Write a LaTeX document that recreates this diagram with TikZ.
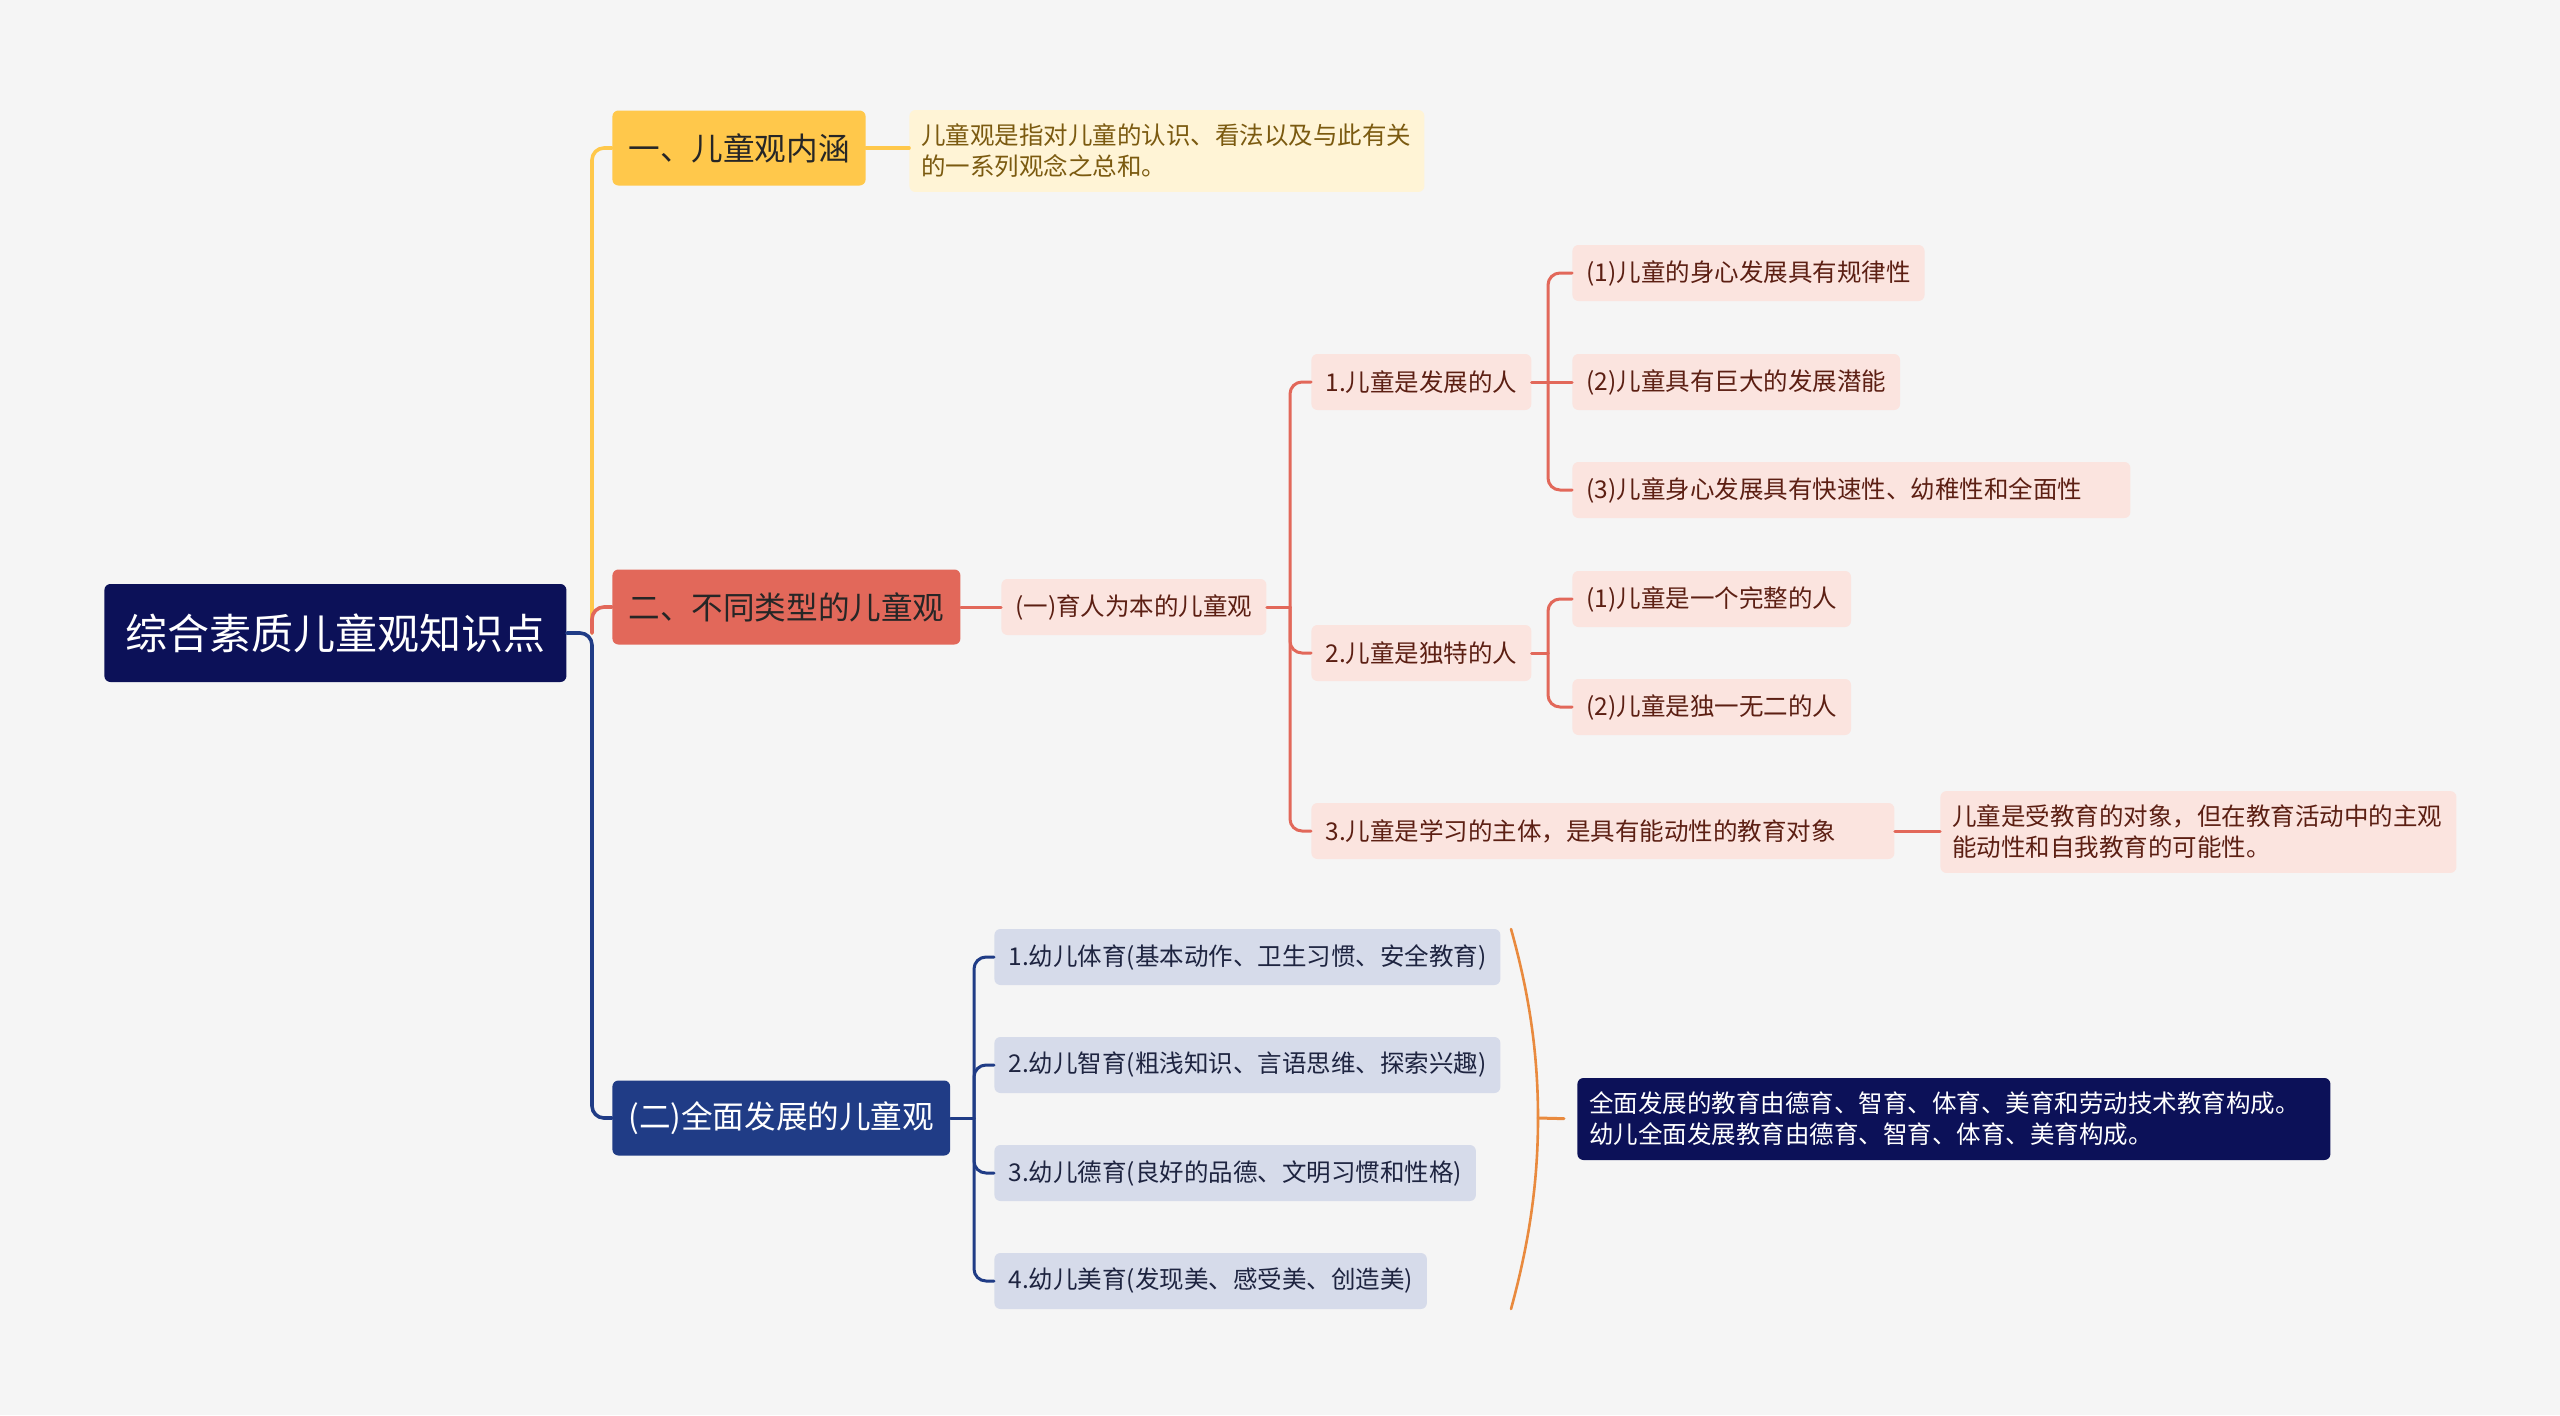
\documentclass[tikz,border=0pt]{standalone}
\usepackage{fontspec}
\setmainfont{Noto Sans CJK SC}
\definecolor{bgc}{HTML}{F5F5F5}
\definecolor{rootc}{HTML}{0C1158}
\definecolor{yelc}{HTML}{FFC84B}
\definecolor{yelleaf}{HTML}{FFF4D6}
\definecolor{yeltext}{HTML}{7B5A10}
\definecolor{redc}{HTML}{E2685A}
\definecolor{redleaf}{HTML}{FBE4DF}
\definecolor{redtext}{HTML}{5C1F13}
\definecolor{bluc}{HTML}{203C86}
\definecolor{bluleaf}{HTML}{D6DBEA}
\definecolor{blutext}{HTML}{1E2440}
\definecolor{bracec}{HTML}{E98A3E}
\tikzset{
  box/.style={anchor=west, rounded corners=3pt, inner xsep=7pt, inner ysep=0pt, minimum height=28pt},
  rootbox/.style={box, fill=rootc, text=white, font=\fontsize{21pt}{25pt}\selectfont, minimum height=49pt, inner xsep=10.5pt},
  mainbox/.style={box, font=\fontsize{15.8pt}{19pt}\selectfont, minimum height=37.5pt, inner xsep=8pt},
  leaf/.style={box, font=\fontsize{12.25pt}{15.5pt}\selectfont},
  note/.style={leaf, align=left, inner ysep=7pt, inner xsep=6pt},
  wide/.style={text width=#1, align=left},
  link/.style={line width=1.8pt, rounded corners=6pt},
  sublink/.style={line width=1.5pt, rounded corners=6pt},
}
\begin{document}
\begin{tikzpicture}[x=0.5pt, y=-0.5pt, line join=round, line cap=round]
\fill[bgc] (0,0) rectangle (2560,1415);
\useasboundingbox (0,0) rectangle (2560,1415);
% root and main branches
\node[rootbox] (root) at (104,633) {综合素质儿童观知识点};
\node[mainbox, fill=yelc, text=black!85] (b1) at (612,148) {一、儿童观内涵};
\node[mainbox, fill=redc, text=black!85] (b2) at (612,607) {二、不同类型的儿童观};
\node[mainbox, fill=bluc, text=white] (b3) at (612,1118) {(二)全面发展的儿童观};
% first branch
\node[note, fill=yelleaf, text=yeltext, wide=245.5pt] (y1) at (909,151) {儿童观是指对儿童的认识、看法以及与此有关\\的一系列观念之总和。};
% second branch
\node[leaf, fill=redleaf, text=redtext] (r0) at (1001,607) {(一)育人为本的儿童观};
\node[leaf, fill=redleaf, text=redtext] (r1) at (1311,382) {1.儿童是发展的人};
\node[leaf, fill=redleaf, text=redtext] (r2) at (1311,653) {2.儿童是独特的人};
\node[leaf, fill=redleaf, text=redtext, wide=277.5pt] (r3) at (1311,831) {3.儿童是学习的主体，是具有能动性的教育对象};
\node[leaf, fill=redleaf, text=redtext] (r11) at (1572,273) {(1)儿童的身心发展具有规律性};
\node[leaf, fill=redleaf, text=redtext] (r12) at (1572,382) {(2)儿童具有巨大的发展潜能};
\node[leaf, fill=redleaf, text=redtext, wide=265pt] (r13) at (1572,490) {(3)儿童身心发展具有快速性、幼稚性和全面性};
\node[leaf, fill=redleaf, text=redtext] (r21) at (1572,599) {(1)儿童是一个完整的人};
\node[leaf, fill=redleaf, text=redtext] (r22) at (1572,707) {(2)儿童是独一无二的人};
\node[note, fill=redleaf, text=redtext, wide=246pt] (r31) at (1940,832) {儿童是受教育的对象，但在教育活动中的主观\\能动性和自我教育的可能性。};
% third branch
\node[leaf, fill=bluleaf, text=blutext] (u1) at (994,957) {1.幼儿体育(基本动作、卫生习惯、安全教育)};
\node[leaf, fill=bluleaf, text=blutext] (u2) at (994,1065) {2.幼儿智育(粗浅知识、言语思维、探索兴趣)};
\node[leaf, fill=bluleaf, text=blutext] (u3) at (994,1173) {3.幼儿德育(良好的品德、文明习惯和性格)};
\node[leaf, fill=bluleaf, text=blutext] (u4) at (994,1281) {4.幼儿美育(发现美、感受美、创造美)};
\node[note, fill=rootc, text=white, wide=364.5pt] (sum) at (1577,1119) {全面发展的教育由德育、智育、体育、美育和劳动技术教育构成。\\幼儿全面发展教育由德育、智育、体育、美育构成。};
% spine points
\coordinate (t0) at (592,633);
\coordinate (tr) at (1290,607);
\coordinate (tr1) at (1548,382);
\coordinate (tr2) at (1548,653);
\coordinate (tu) at (974,1118);
\coordinate (bm) at (1538,1118);
% connectors
\draw[link, yelc] (t0) |- (b1.west);
\draw[link, yelc] (b1.east) -- (b1.east -| y1.west);
\draw[link, redc] (t0) |- (b2.west);
\draw[link, bluc] (root.east) -- (t0) |- (b3.west);
\draw[sublink, redc] (b2.east) -- (r0.west);
\draw[sublink, redc] (r0.east) -- (tr);
\foreach \c in {r1,r2,r3} \draw[sublink, redc] (tr) |- (\c.west);
\draw[sublink, redc] (r1.east) -- (r12.west);
\foreach \c in {r11,r13} \draw[sublink, redc] (tr1) |- (\c.west);
\draw[sublink, redc] (r2.east) -- (tr2);
\foreach \c in {r21,r22} \draw[sublink, redc] (tr2) |- (\c.west);
\draw[sublink, redc] (r3.east) -- (r3.east -| r31.west);
\draw[sublink, bluc] (b3.east) -- (tu);
\foreach \c in {u1,u2,u3,u4} \draw[sublink, bluc] (tu) |- (\c.west);
% brace
\draw[bracec, line width=1.3pt] (1511,929) .. controls (1531,1000) and (1538,1060) .. (bm)
  .. controls (1538,1176) and (1531,1236) .. (1511,1309);
\draw[bracec, line width=1.5pt, shorten >=6.5pt] (bm) -- (sum.west);
\end{tikzpicture}
\end{document}
